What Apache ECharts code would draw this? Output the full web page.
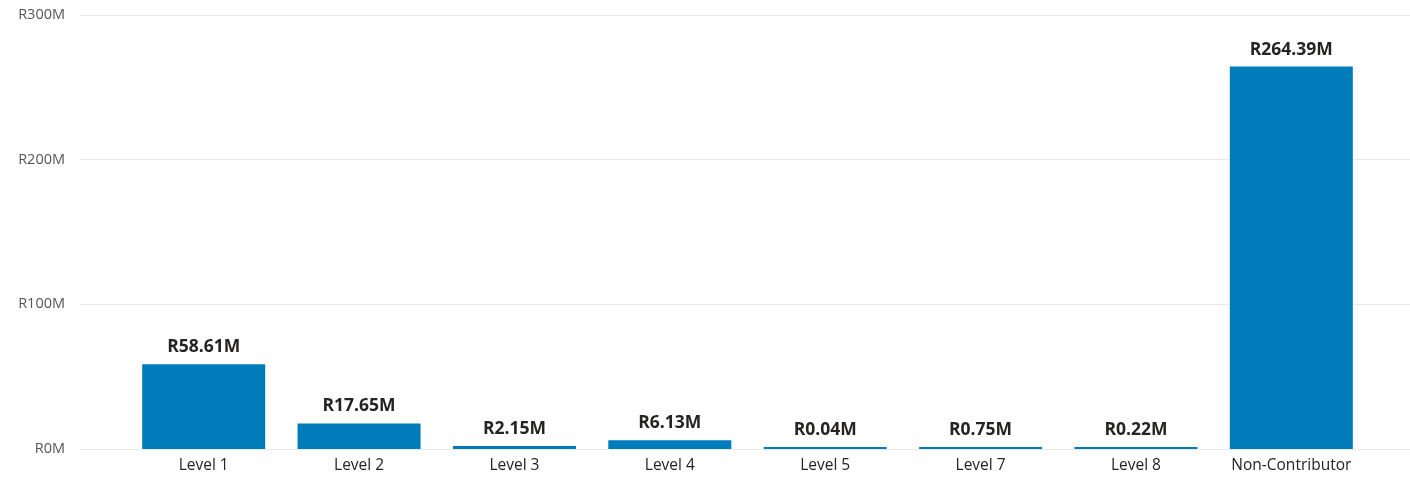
<!DOCTYPE html>
<html>
<head>
<meta charset="utf-8">
<script src="https://cdn.jsdelivr.net/npm/echarts@6/dist/echarts.min.js"></script>
<style>
  html, body { margin: 0; padding: 0; background: #fff; }
  #chart { width: 1410px; height: 477px; }
</style>
</head>
<body>
<div id="chart"></div>
<script>
// data (millions of Rand)
const categories = ['Level 1', 'Level 2', 'Level 3', 'Level 4', 'Level 5', 'Level 7', 'Level 8', 'Non-Contributor']
const values = [58.61, 17.65, 2.15, 6.13, 0.04, 0.75, 0.22, 264.39]
const yMax = 300
const yStep = 100

const font = "'Segoe UI', 'Open Sans', 'Noto Sans', sans-serif"
const chart = echarts.init(document.getElementById('chart'))

chart.setOption({
  animation: false,
  textStyle: { fontFamily: font },
  grid: [
    // gridlines + y labels span the full width
    { left: 80, right: 0, top: 15, bottom: 28 },
    // bars sit in an inset band
    { left: 126, right: 41, top: 15, bottom: 28 }
  ],
  xAxis: [
    { gridIndex: 0, type: 'category', data: categories, show: false },
    {
      gridIndex: 1,
      type: 'category',
      data: categories,
      axisLine: { show: false },
      axisTick: { show: false },
      axisLabel: { interval: 0, color: '#252423', fontSize: 15.5, margin: 9, fontFamily: font }
    }
  ],
  yAxis: [
    {
      gridIndex: 0,
      type: 'value',
      min: 0,
      max: yMax,
      interval: yStep,
      axisLine: { show: false },
      axisTick: { show: false },
      splitLine: { lineStyle: { color: '#e9e9e9', width: 1 } },
      axisLabel: {
        color: '#555',
        fontSize: 14.5,
        margin: 15,
        fontFamily: font,
        formatter: v => 'R' + v + 'M'
      }
    },
    {
      gridIndex: 1,
      type: 'value',
      min: 0,
      max: yMax,
      interval: yStep,
      show: false
    }
  ],
  series: [
    {
      type: 'bar',
      xAxisIndex: 1,
      yAxisIndex: 1,
      data: values,
      barWidth: 123,
      barMinHeight: 2,
      itemStyle: { color: '#007cba' },
      label: {
        show: true,
        position: 'top',
        distance: 8,
        color: '#252423',
        fontSize: 17.5,
        fontWeight: 'bold',
        fontFamily: font,
        formatter: p => 'R' + p.value.toFixed(2) + 'M'
      }
    }
  ]
})
</script>
</body>
</html>
